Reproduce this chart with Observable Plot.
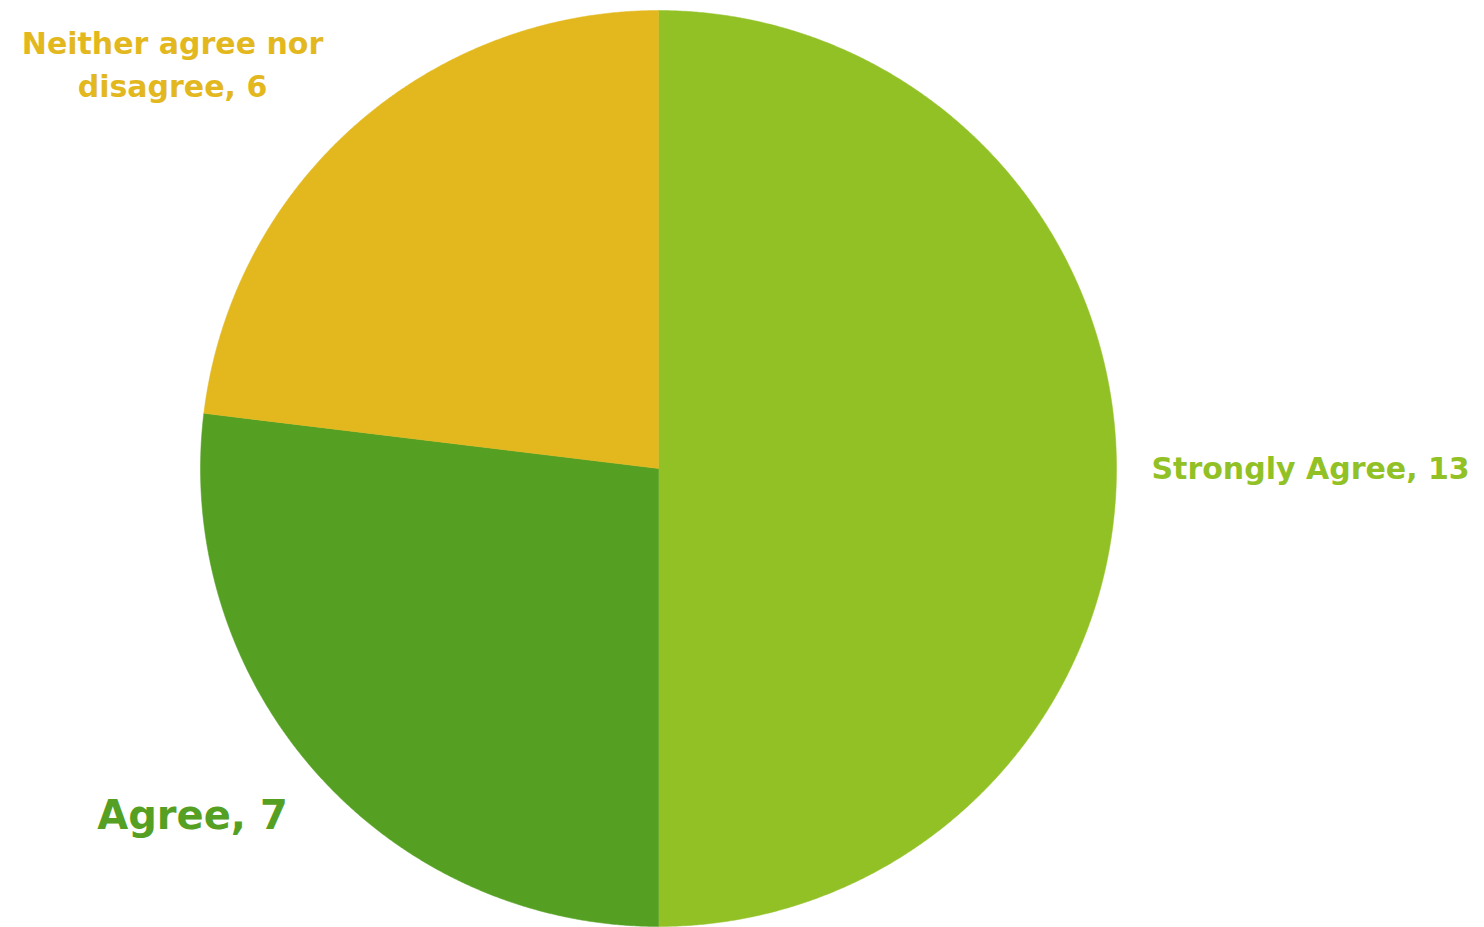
<!DOCTYPE html>
<html>
<head>
<meta charset="utf-8">
<script src="https://cdn.jsdelivr.net/npm/d3@7"></script>
<script src="https://cdn.jsdelivr.net/npm/@observablehq/plot@0.6"></script>
<style>
  html, body { margin: 0; padding: 0; background: #ffffff; }
  #chart svg { display: block; }
</style>
</head>
<body>
<div id="chart"></div>
<script>
// Data
const categories = ["Strongly Agree", "Agree", "Neither agree nor disagree"];
const values = [13, 7, 6];
const colors = ["#92C126", "#55A023", "#E3B81F"];
const labelLines = [["Strongly Agree, 13"], ["Agree, 7"], ["Neither agree nor", "disagree, 6"]];

// Layout (pixels)
const W = 1484, H = 927;
const cx = 658, cy = 468, R = 458;

// Pie angles from data (clockwise from 12 o'clock)
const pie = d3.pie().sort(null).value(d => d)(values);

// Polygon points for each slice (computed from data angles)
const polys = [];
pie.forEach((p, i) => {
  const a0 = p.startAngle, a1 = p.endAngle;
  const n = Math.max(2, Math.ceil((a1 - a0) / (Math.PI / 720)));
  polys.push({cat: categories[i], x: 0, y: 0});
  for (let k = 0; k <= n; k++) {
    const a = a0 + (a1 - a0) * k / n;
    polys.push({cat: categories[i], x: Math.sin(a), y: Math.cos(a)});
  }
  polys.push({cat: categories[i], x: 0, y: 0});
});

// Label anchor positions (layout, pixels) converted to unit coords
const labelPos = [
  {px: 1151, py: 469, anchor: "start", size: 30},
  {px: 192, py: 816, anchor: "middle", size: 40},
  {px: 172, py: 44, anchor: "middle", size: 30, lh: 43}
];
const labels = [];
categories.forEach((c, i) => {
  const lp = labelPos[i];
  labelLines[i].forEach((t, j) => {
    labels.push({
      cat: c, text: t,
      x: (lp.px - cx) / R,
      y: (cy - (lp.py + j * (lp.lh || 0))) / R
    });
  });
});

const chart = Plot.plot({
  width: W,
  height: H,
  margin: 0,
  x: {domain: [-cx / R, (W - cx) / R], range: [0, W], axis: null},
  y: {domain: [-(H - cy) / R, cy / R], range: [H, 0], axis: null},
  color: {domain: categories, range: colors},
  style: {background: "#ffffff", fontFamily: "'DejaVu Sans', sans-serif"},
  marks: [
    Plot.line(polys, {
      x: "x", y: "y", z: "cat", fill: "cat", stroke: "cat", strokeWidth: 0.5,
      curve: "linear",
      style: "filter: drop-shadow(0px 0px 4px rgba(0,0,0,0.25));"
    }),
    ...[0, 1, 2].map(i => Plot.text(labels.filter(d => d.cat === categories[i]), {
      x: "x", y: "y", text: "text",
      fill: colors[i],
      textAnchor: labelPos[i].anchor,
      fontSize: labelPos[i].size,
      fontWeight: "bold",
      lineAnchor: "middle"
    }))
  ]
});

document.getElementById("chart").appendChild(chart);
</script>
</body>
</html>
